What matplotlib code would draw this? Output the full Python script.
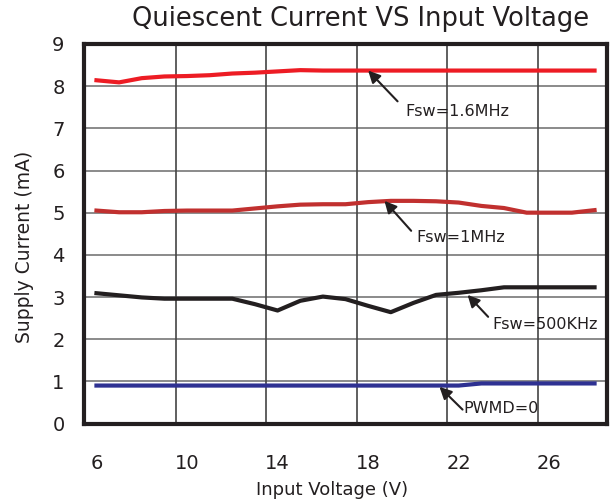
import numpy as np
import matplotlib.pyplot as plt

plt.rcParams['font.family'] = ['DejaVu Sans']

# Input voltage (V)
vin = [6, 7, 8, 9, 10, 11, 12, 13, 14, 15, 16, 17, 18, 19, 20, 21, 22, 23, 24, 25, 26, 27, 28]

# Supply current (mA)
i_1m6 = [8.14, 8.09, 8.19, 8.23, 8.24, 8.26, 8.30, 8.32, 8.35, 8.38, 8.37, 8.37, 8.37, 8.37,
         8.37, 8.37, 8.37, 8.37, 8.37, 8.37, 8.37, 8.37, 8.37]
i_1m = [5.05, 5.01, 5.01, 5.04, 5.05, 5.05, 5.05, 5.10, 5.15, 5.19, 5.20, 5.20, 5.25, 5.28,
        5.28, 5.27, 5.24, 5.16, 5.11, 5.00, 5.00, 5.00, 5.06]
i_500k = [3.09, 3.04, 2.99, 2.96, 2.96, 2.96, 2.96, 2.83, 2.68, 2.91, 3.01, 2.95, 2.79, 2.64,
          2.86, 3.05, 3.10, 3.16, 3.23, 3.23, 3.23, 3.23, 3.23]
i_pwmd = [0.90, 0.90, 0.90, 0.90, 0.90, 0.90, 0.90, 0.90, 0.90, 0.90, 0.90, 0.90, 0.90, 0.90,
          0.90, 0.90, 0.90, 0.95, 0.95, 0.95, 0.95, 0.95, 0.95]

xticks = [6, 10, 14, 18, 22, 26]
vgrid = [9.5, 13.5, 17.5, 21.5, 25.5]

fig = plt.figure(figsize=(6.15, 5.04), dpi=100)
ax = fig.add_axes([0.1366, 0.1597, 0.8504, 0.753])

ax.set_xlim(5.45, 28.55)
ax.set_ylim(0, 9)

# grid
for y in range(1, 9):
    ax.axhline(y, color='#777777', lw=1.2, zorder=1)
for x in vgrid:
    ax.axvline(x, color='#444444', lw=1.2, zorder=1)

ax.plot(vin, i_1m6, color='#ED1C24', lw=3, zorder=3)
ax.plot(vin, i_1m, color='#C1302F', lw=3, zorder=3)
ax.plot(vin, i_500k, color='#231F20', lw=3, zorder=3)
ax.plot(vin, i_pwmd, color='#2E3192', lw=3, zorder=3)

for s in ax.spines.values():
    s.set_linewidth(3)
    s.set_color('#231F20')

ax.set_xticks(xticks)
ax.set_yticks(range(0, 10))
ax.tick_params(length=0, labelsize=14, colors='#231F20')
ax.tick_params(axis='x', pad=22)
ax.tick_params(axis='y', pad=14)

fig.text(332 / 615, 1 - 490 / 504, 'Input Voltage (V)', fontsize=13,
         ha='center', va='center', color='#231F20')
fig.text(25 / 615, 1 - 247 / 504, 'Supply Current (mA)', fontsize=13.5, rotation=90,
         ha='center', va='center', color='#231F20')
fig.text(361 / 615, 1 - 19 / 504, 'Quiescent Current VS Input Voltage', fontsize=18.5,
         ha='center', va='center', color='#231F20')

arrow = dict(arrowstyle='-|>', color='#231F20', lw=1.5, mutation_scale=18, shrinkA=0, shrinkB=0)
notes = [
    ('Fsw=1.6MHz', (18.0, 8.37), (19.3, 7.64), (19.65, 7.39)),
    ('Fsw=1MHz', (18.72, 5.28), (19.9, 4.57), (20.13, 4.41)),
    ('Fsw=500KHz', (22.39, 3.05), (23.3, 2.53), (23.5, 2.34)),
    ('PWMD=0', (21.15, 0.87), (22.17, 0.33), (22.2, 0.36)),
]
for label, tip, tail, pos in notes:
    ax.annotate('', xy=tip, xytext=tail, arrowprops=arrow, zorder=4)
    ax.text(pos[0], pos[1], label, fontsize=11.5, color='#231F20', va='center', ha='left', zorder=4)

fig.savefig('out.png', dpi=100)
